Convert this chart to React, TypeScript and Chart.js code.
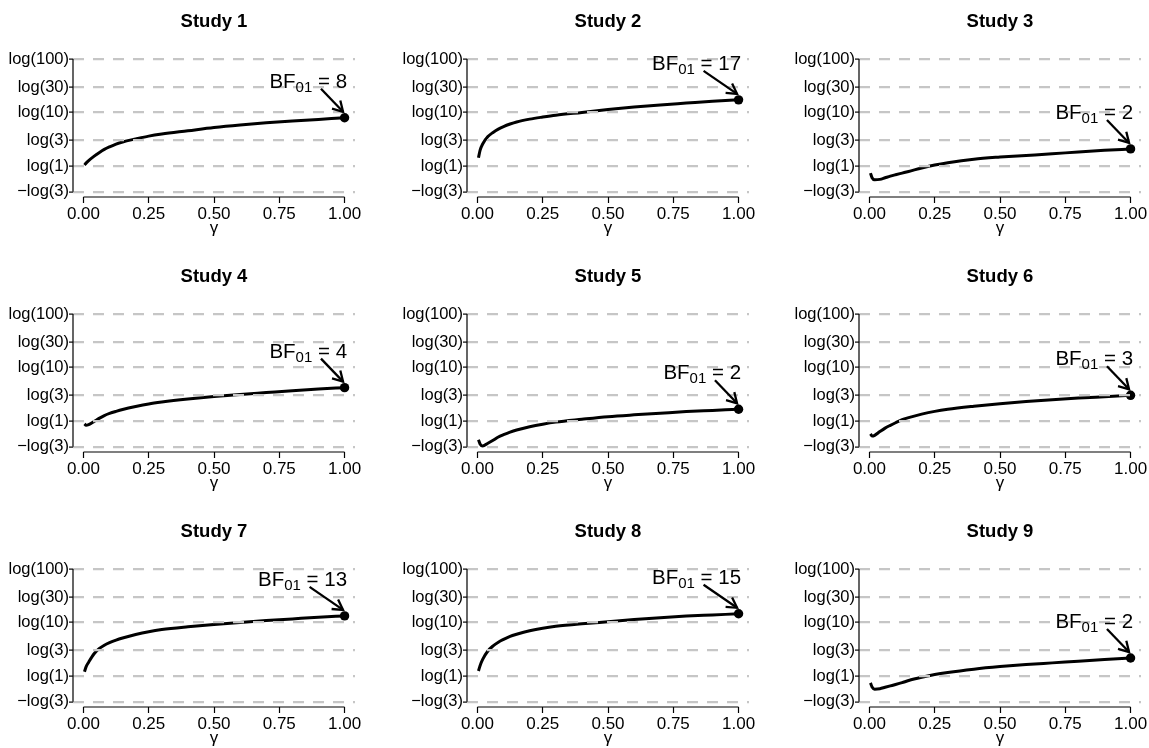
import React, { useEffect, useRef } from "react";
import { Chart, registerables } from "chart.js";

Chart.register(...registerables);

const FONT = '"Liberation Sans", Arial, Helvetica, sans-serif';

const GAMMA = [0.004, 0.01, 0.02, 0.04, 0.06, 0.08, 0.1, 0.125, 0.15, 0.2, 0.25, 0.3, 0.4, 0.5, 0.6, 0.7, 0.8, 0.9, 1.0];

const STUDY_TITLES = ["Study 1", "Study 2", "Study 3", "Study 4", "Study 5", "Study 6", "Study 7", "Study 8", "Study 9"];
const BF_LABELS = ["8", "17", "2", "4", "2", "3", "13", "15", "2"];

// log Bayes factor (natural log) at the GAMMA values
const LOGBF_STUDY1 = [0.05, 0.13, 0.24, 0.42, 0.58, 0.72, 0.83, 0.95, 1.04, 1.17, 1.29, 1.38, 1.52, 1.66, 1.77, 1.86, 1.94, 2.01, 2.08];
const LOGBF_STUDY2 = [0.36, 0.68, 0.95, 1.27, 1.45, 1.59, 1.70, 1.81, 1.90, 2.02, 2.11, 2.19, 2.31, 2.43, 2.54, 2.63, 2.71, 2.79, 2.85];
const LOGBF_STUDY3 = [-0.30, -0.50, -0.59, -0.57, -0.50, -0.43, -0.37, -0.30, -0.23, -0.08, 0.05, 0.15, 0.30, 0.39, 0.46, 0.53, 0.61, 0.68, 0.74];
const LOGBF_STUDY4 = [-0.12, -0.18, -0.15, -0.02, 0.12, 0.24, 0.33, 0.42, 0.50, 0.63, 0.74, 0.82, 0.95, 1.06, 1.15, 1.23, 1.31, 1.38, 1.44];
const LOGBF_STUDY5 = [-0.80, -0.98, -1.07, -0.95, -0.82, -0.68, -0.58, -0.47, -0.38, -0.24, -0.13, -0.04, 0.08, 0.19, 0.27, 0.34, 0.41, 0.46, 0.51];
const LOGBF_STUDY6 = [-0.55, -0.64, -0.61, -0.45, -0.30, -0.18, -0.07, 0.06, 0.15, 0.30, 0.42, 0.51, 0.64, 0.75, 0.84, 0.92, 0.99, 1.05, 1.11];
const LOGBF_STUDY7 = [0.19, 0.40, 0.60, 0.95, 1.18, 1.33, 1.44, 1.55, 1.64, 1.79, 1.91, 2.00, 2.12, 2.22, 2.31, 2.39, 2.46, 2.53, 2.59];
const LOGBF_STUDY8 = [0.22, 0.45, 0.72, 1.08, 1.30, 1.46, 1.58, 1.71, 1.80, 1.95, 2.06, 2.14, 2.25, 2.34, 2.43, 2.51, 2.58, 2.63, 2.68];
const LOGBF_STUDY9 = [-0.29, -0.47, -0.56, -0.54, -0.48, -0.42, -0.36, -0.28, -0.19, -0.05, 0.07, 0.16, 0.30, 0.41, 0.50, 0.57, 0.64, 0.71, 0.78];

const SERIES = [LOGBF_STUDY1, LOGBF_STUDY2, LOGBF_STUDY3, LOGBF_STUDY4, LOGBF_STUDY5, LOGBF_STUDY6, LOGBF_STUDY7, LOGBF_STUDY8, LOGBF_STUDY9];

const Y_TICK_VALUES = [-1.0986, 0, 1.0986, 2.3026, 3.4012, 4.6052];
const Y_TICK_LABELS = ["\u2212log(3)", "log(1)", "log(3)", "log(10)", "log(30)", "log(100)"];
const X_TICK_VALUES = [0, 0.25, 0.5, 0.75, 1];
const X_TICK_LABELS = ["0.00", "0.25", "0.50", "0.75", "1.00"];
const X_TITLE = "\u03b3";

const PANEL_W = 393;
const PANEL_H = 255;
const COL_LEFT = [0, 394, 786];
const ROW_TOP = [0, 255, 510];

function makeDecorPlugin(title: string, bf: string) {
  return {
    id: "panelDecor",
    afterDraw(chart: any) {
      const { ctx, chartArea } = chart;
      const xs = chart.scales.x;
      const ys = chart.scales.y;
      ctx.save();
      // axis lines spanning the tick range (R style)
      ctx.strokeStyle = "#000";
      ctx.lineWidth = 1.2;
      ctx.beginPath();
      const yTop = ys.getPixelForValue(Y_TICK_VALUES[Y_TICK_VALUES.length - 1]);
      const yBot = ys.getPixelForValue(Y_TICK_VALUES[0]);
      ctx.moveTo(chartArea.left, yTop);
      ctx.lineTo(chartArea.left, yBot);
      const x0 = xs.getPixelForValue(X_TICK_VALUES[0]);
      const x1 = xs.getPixelForValue(X_TICK_VALUES[X_TICK_VALUES.length - 1]);
      ctx.moveTo(x0, chartArea.bottom);
      ctx.lineTo(x1, chartArea.bottom);
      ctx.stroke();

      // title
      ctx.fillStyle = "#000";
      ctx.font = `bold 18.5px ${FONT}`;
      ctx.textAlign = "center";
      ctx.textBaseline = "middle";
      ctx.fillText(title, (chartArea.left + chartArea.right) / 2, 21.7);

      // annotation BF01 = value with arrow to the last point
      const meta = chart.getDatasetMeta(0);
      const pt = meta.data[meta.data.length - 1];
      const px = pt.x;
      const py = pt.y;
      const big = `20.5px ${FONT}`;
      const small = `15px ${FONT}`;
      ctx.textAlign = "left";
      ctx.textBaseline = "alphabetic";
      ctx.font = big;
      const wBF = ctx.measureText("BF").width;
      const wSp = ctx.measureText(" ").width;
      const wEq = ctx.measureText("=").width;
      const wVal = ctx.measureText(bf).width;
      ctx.font = small;
      const wSub = ctx.measureText("01").width;
      const total = wBF + wSub + wSp + wEq + wSp + wVal;
      const base = py - 30;
      let x = px + 2.5 - total;
      ctx.font = big;
      ctx.fillText("BF", x, base);
      x += wBF;
      ctx.font = small;
      ctx.fillText("01", x, base + 4);
      x += wSub + wSp;
      ctx.font = big;
      const eqC = x + wEq / 2;
      ctx.fillText("=", x, base);
      x += wEq + wSp;
      ctx.fillText(bf, x, base);

      const sx = eqC - 3;
      const sy = base + 1;
      const ex = px - 1.5;
      const ey = py - 6;
      ctx.lineWidth = 2.3;
      ctx.beginPath();
      ctx.moveTo(sx, sy);
      ctx.lineTo(ex, ey);
      ctx.stroke();
      const ang = Math.atan2(ey - sy, ex - sx);
      const head = 11.5;
      const spread = Math.PI / 6;
      ctx.beginPath();
      ctx.moveTo(ex - head * Math.cos(ang - spread), ey - head * Math.sin(ang - spread));
      ctx.lineTo(ex, ey);
      ctx.lineTo(ex - head * Math.cos(ang + spread), ey - head * Math.sin(ang + spread));
      ctx.stroke();
      ctx.restore();
    },
  };
}

function Panel({ index }: { index: number }) {
  const ref = useRef<HTMLCanvasElement | null>(null);
  useEffect(() => {
    if (!ref.current) return;
    const values = SERIES[index];
    const data = GAMMA.map((g, i) => ({ x: g, y: values[i] }));
    const yMinT = Y_TICK_VALUES[0];
    const yMaxT = Y_TICK_VALUES[Y_TICK_VALUES.length - 1];
    const yExt = (yMaxT - yMinT) * 0.04;
    const xMinT = X_TICK_VALUES[0];
    const xMaxT = X_TICK_VALUES[X_TICK_VALUES.length - 1];
    const xExt = (xMaxT - xMinT) * 0.04;
    const last = data.length - 1;
    const chart = new Chart(ref.current, {
      type: "line",
      data: {
        datasets: [
          {
            data,
            borderColor: "#000",
            borderWidth: 3,
            backgroundColor: "#000",
            pointBackgroundColor: "#000",
            pointBorderWidth: 0,
            pointRadius: (c: any) => (c.dataIndex === last ? 4.7 : 0),
            pointHoverRadius: 0,
            cubicInterpolationMode: "monotone",
            fill: false,
            clip: false as any,
          },
        ],
      },
      options: {
        animation: false,
        responsive: false,
        devicePixelRatio: 1,
        events: [],
        layout: { padding: { top: 53.7, left: 0, right: 38, bottom: 12 } },
        plugins: { legend: { display: false }, tooltip: { enabled: false }, title: { display: false } },
        scales: {
          x: {
            type: "linear",
            min: xMinT - xExt,
            max: xMaxT + xExt,
            afterBuildTicks: (s: any) => {
              s.ticks = X_TICK_VALUES.map((v) => ({ value: v }));
            },
            afterFit: (s: any) => {
              s.height = 46;
            },
            ticks: {
              autoSkip: false,
              maxRotation: 0,
              padding: 1,
              color: "#000",
              font: { family: FONT, size: 17 },
              callback: (_v: any, i: number) => X_TICK_LABELS[i],
            },
            grid: {
              drawOnChartArea: false,
              drawTicks: true,
              tickLength: 6,
              tickColor: "#000",
              tickWidth: 1.2,
            },
            border: { display: false },
            title: {
              display: true,
              text: X_TITLE,
              color: "#000",
              font: { family: FONT, size: 17 },
              padding: { top: 0, bottom: 4 },
            },
          },
          y: {
            type: "linear",
            min: yMinT - yExt,
            max: yMaxT + yExt,
            afterBuildTicks: (s: any) => {
              s.ticks = Y_TICK_VALUES.map((v) => ({ value: v }));
            },
            afterFit: (s: any) => {
              s.width = 73;
            },
            ticks: {
              autoSkip: false,
              padding: 0,
              color: "#000",
              font: { family: FONT, size: 16.5 },
              callback: (_v: any, i: number) => Y_TICK_LABELS[i],
            },
            grid: {
              z: 1,
              color: "#c6c6c6",
              lineWidth: 2.2,
              drawTicks: true,
              tickLength: 4,
              tickColor: "#000",
              tickWidth: 1.2,
            },
            border: { display: false, dash: [11, 9] },
          },
        },
      },
      plugins: [makeDecorPlugin(STUDY_TITLES[index], BF_LABELS[index])],
    } as any);
    return () => chart.destroy();
  }, [index]);
  const r = Math.floor(index / 3);
  const c = index % 3;
  return (
    <canvas
      ref={ref}
      width={PANEL_W}
      height={PANEL_H}
      style={{ position: "absolute", left: COL_LEFT[c], top: ROW_TOP[r], width: PANEL_W, height: PANEL_H }}
    />
  );
}

export default function App() {
  return (
    <div
      style={{
        position: "absolute",
        left: 0,
        top: 0,
        width: 1149,
        height: 748,
        overflow: "hidden",
        background: "#fff",
      }}
    >
      {STUDY_TITLES.map((_t, i) => (
        <Panel key={i} index={i} />
      ))}
    </div>
  );
}
